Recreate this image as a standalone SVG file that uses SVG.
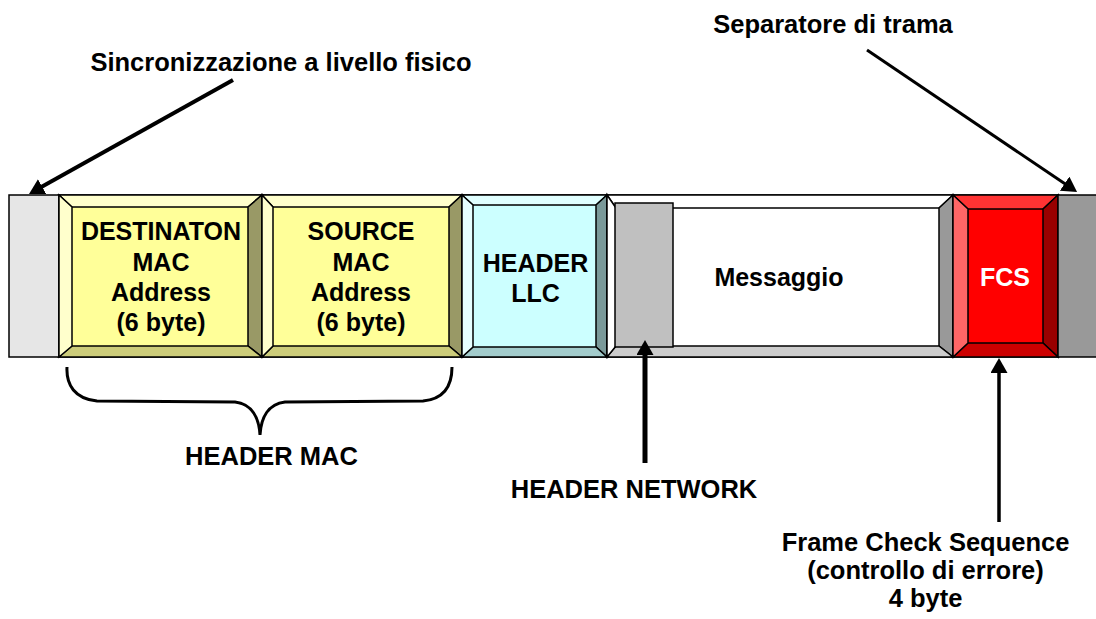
<svg xmlns="http://www.w3.org/2000/svg" width="1096" height="619" viewBox="0 0 1096 619">
<style>
text{font-family:"Liberation Sans",Arial,sans-serif;font-weight:bold;font-size:25.5px;fill:#000;text-anchor:middle}
.bx{font-size:25px}
.w{fill:#fff}
.b{stroke:#000;stroke-width:1.5;stroke-linejoin:miter}
.ln{stroke:#000;fill:none}
</style>
<defs>
<marker id="ah" markerUnits="userSpaceOnUse" markerWidth="17" markerHeight="18" refX="3" refY="8.5" orient="auto" viewBox="0 0 17 18">
<path d="M0,0 L15,8.5 L0,17 z" fill="#000"/>
</marker>
</defs>
<rect width="1096" height="619" fill="#fff"/>

<g id="sync">
<rect class="b" x="9" y="195" width="50" height="162" fill="#e6e6e6"/>
</g>

<g id="dest">
<rect class="b" x="59" y="195" width="203" height="162" fill="#ffff99"/>
<polygon class="b" points="59,195 262,195 248,207 72,207" fill="#ffffcc"/>
<polygon class="b" points="262,195 262,357 248,346 248,207" fill="#999966"/>
<polygon class="b" points="59,357 262,357 248,346 72,346" fill="#cccc7a"/>
<polygon class="b" points="59,195 72,207 72,346 59,357" fill="#ffffcc"/>
<text class="bx" x="161" y="240">DESTINATON</text>
<text class="bx" x="161" y="270.5">MAC</text>
<text class="bx" x="161" y="301">Address</text>
<text class="bx" x="161" y="331">(6 byte)</text>
</g>

<g id="source">
<rect class="b" x="262" y="195" width="200" height="162" fill="#ffff99"/>
<polygon class="b" points="262,195 462,195 449,207 273,207" fill="#ffffcc"/>
<polygon class="b" points="462,195 462,357 449,346 449,207" fill="#999966"/>
<polygon class="b" points="262,357 462,357 449,346 273,346" fill="#cccc7a"/>
<polygon class="b" points="262,195 273,207 273,346 262,357" fill="#ffffcc"/>
<text class="bx" x="361" y="240">SOURCE</text>
<text class="bx" x="361" y="270.5">MAC</text>
<text class="bx" x="361" y="301">Address</text>
<text class="bx" x="361" y="331">(6 byte)</text>
</g>

<g id="llc">
<rect class="b" x="462" y="195" width="145" height="162" fill="#ccffff"/>
<polygon class="b" points="462,195 607,195 596,205 473,205" fill="#e0ffff"/>
<polygon class="b" points="607,195 607,357 596,347 596,205" fill="#7a9999"/>
<polygon class="b" points="462,357 607,357 596,347 473,347" fill="#a3cccc"/>
<polygon class="b" points="462,195 473,205 473,347 462,357" fill="#e6ffff"/>
<text class="bx" x="535.5" y="272">HEADER</text>
<text class="bx" x="535.5" y="302">LLC</text>
</g>

<g id="messaggio">
<rect class="b" x="607" y="195" width="346" height="162" fill="#ffffff"/>
<polygon class="b" points="607,195 953,195 939,208 616,208" fill="#ffffff"/>
<polygon class="b" points="953,195 953,357 939,346 939,208" fill="#999999"/>
<polygon class="b" points="607,357 953,357 939,346 616,346" fill="#cccccc"/>
<polygon class="b" points="607,195 616,208 616,346 607,357" fill="#ffffff"/>
<text class="bx" x="779" y="286">Messaggio</text>
</g>

<g id="header-network">
<rect class="b" x="615" y="203" width="58" height="144" fill="#c0c0c0"/>
</g>

<g id="fcs">
<rect class="b" x="953" y="195" width="105" height="162" fill="#ff0000"/>
<polygon class="b" points="953,195 1058,195 1043,209 968,209" fill="#ff3333"/>
<polygon class="b" points="1058,195 1058,357 1043,343 1043,209" fill="#990000"/>
<polygon class="b" points="953,357 1058,357 1043,343 968,343" fill="#cc0000"/>
<polygon class="b" points="953,195 968,209 968,343 953,357" fill="#ff6666"/>
<text class="bx w" x="1005" y="286">FCS</text>
</g>

<g id="separator">
<rect class="b" x="1058" y="195" width="45" height="162" fill="#999999"/>
</g>

<g id="connectors">
<line class="ln" x1="233" y1="80" x2="39.5" y2="188.1" stroke-width="4" marker-end="url(#ah)"/>
<line class="ln" x1="867" y1="50" x2="1067.1" y2="185.3" stroke-width="3" marker-end="url(#ah)"/>
<line class="ln" x1="645" y1="463" x2="645" y2="352" stroke-width="5" marker-end="url(#ah)"/>
<line class="ln" x1="999" y1="522" x2="999" y2="370" stroke-width="3.5" marker-end="url(#ah)"/>
<path class="ln" stroke-width="3" d="M67,367 C66,385 75,399 97,401 L235,402 C252,404 259,418 260,435 C261,418 268,404 285,402 L423,401 C445,399 452,385 452,367"/>
</g>

<g id="labels">
<text x="281" y="71">Sincronizzazione a livello fisico</text>
<text x="833" y="33">Separatore di trama</text>
<text x="271.5" y="465">HEADER MAC</text>
<text x="634" y="498">HEADER NETWORK</text>
<text x="925.5" y="551">Frame Check Sequence</text>
<text x="925.5" y="579">(controllo di errore)</text>
<text x="925.5" y="607">4 byte</text>
</g>
</svg>
